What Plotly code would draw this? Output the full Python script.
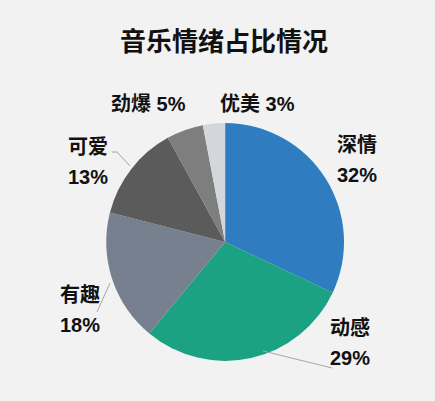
import plotly.graph_objects as go

TITLE = '音乐情绪占比情况'
moods = ['深情', '动感', '有趣', '可爱', '劲爆', '优美']
shares = [32, 29, 18, 13, 5, 3]

SLICE_COLOURS = ['#2F7CC0', '#1AA283', '#76808F', '#5B5B5B', '#7E7E7E', '#D3D6DB']
BG_COLOUR = '#F2F2F2'
TEXT_COLOUR = '#111111'
FONT = 'Liberation Sans, Noto Sans CJK SC, sans-serif'
W, H = 435, 401

# label anchors (pixel centre of each label block) and whether it is a two-line label
LABEL_POS = [(357, 160), (350, 343), (80, 310), (88, 162), (148, 104), (257, 104)]
TWO_LINES = [True, True, True, True, False, False]
LINE_GAP = 30
# leader lines, pixel coords (x0, y0, x1, y1)
LEADERS = [(263, 351, 332, 368), (110, 283, 97, 312), (112, 152, 117, 152), (117, 152, 130, 166)]


def px(x, y):
    return x / W, 1 - y / H


def add_text(text, x, y):
    a, b = px(x, y)
    fig.add_annotation(
        x=a, y=b, xref='paper', yref='paper', xanchor='center', yanchor='middle',
        text='<b>' + text + '</b>', showarrow=False,
        font=dict(family=FONT, size=20, color=TEXT_COLOUR),
    )


fig = go.Figure(go.Pie(
    labels=moods,
    values=shares,
    sort=False,
    direction='clockwise',
    rotation=0,
    marker=dict(colors=SLICE_COLOURS, line=dict(color='rgba(0,0,0,0)', width=0)),
    textinfo='none',
    domain=dict(x=[0.244, 0.791], y=[0.10, 0.693]),
    hoverinfo='label+percent',
))

for mood, share, (x, y), two in zip(moods, shares, LABEL_POS, TWO_LINES):
    pct = '%d%%' % share
    if two:
        add_text(mood, x, y - LINE_GAP / 2)
        add_text(pct, x, y + LINE_GAP / 2)
    else:
        add_text(mood + ' ' + pct, x, y)

for x0, y0, x1, y1 in LEADERS:
    a0, b0 = px(x0, y0)
    a1, b1 = px(x1, y1)
    fig.add_shape(type='line', xref='paper', yref='paper', x0=a0, y0=b0, x1=a1, y1=b1,
                  line=dict(color='#A6A6A6', width=1))

fig.update_layout(
    width=W, height=H,
    paper_bgcolor=BG_COLOUR,
    plot_bgcolor=BG_COLOUR,
    margin=dict(l=0, r=0, t=0, b=0),
    showlegend=False,
    title=dict(text='<b>' + TITLE + '</b>', x=0.515, xanchor='center', y=1 - 42 / H, yanchor='middle',
               font=dict(family=FONT, size=26, color=TEXT_COLOUR)),
    font=dict(family=FONT),
)

# drop the default page margin so the figure sits in the window corner
fig.write_html('out.html', config={'displayModeBar': False},
               post_script="document.body.style.margin='0';")
